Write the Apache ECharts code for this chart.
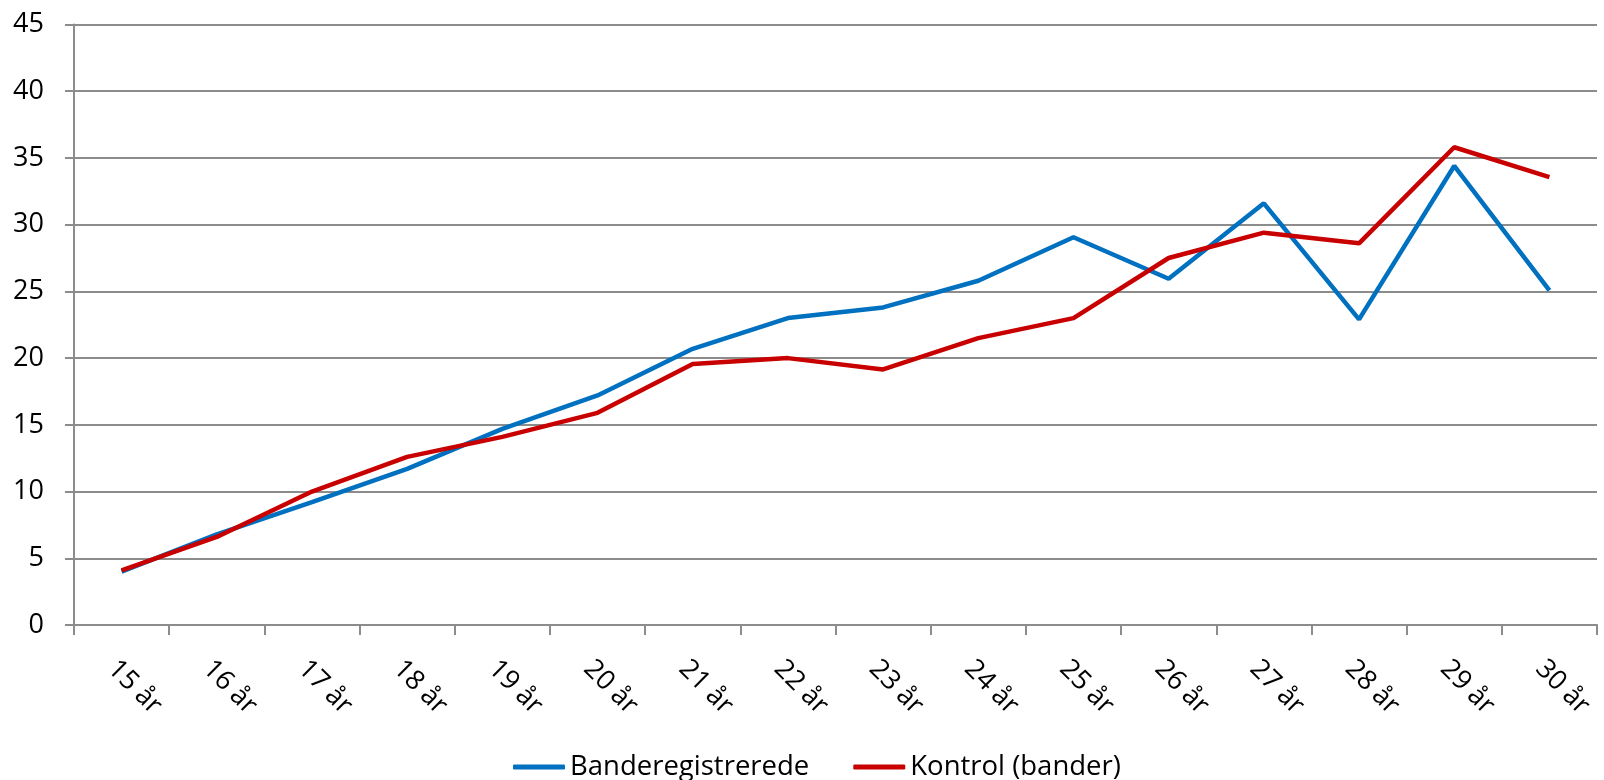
<!DOCTYPE html>
<html>
<head>
<meta charset="utf-8">
<script src="https://cdn.jsdelivr.net/npm/echarts@6/dist/echarts.min.js"></script>
<style>
html,body{margin:0;padding:0;background:#fff;}
#c{width:1604px;height:780px;}
</style>
</head>
<body>
<div id="c"></div>
<script>
var categories = ['15 år','16 år','17 år','18 år','19 år','20 år','21 år','22 år','23 år','24 år','25 år','26 år','27 år','28 år','29 år','30 år'];
var banderegistrerede = [4.0, 6.8, 9.2, 11.7, 14.7, 17.2, 20.7, 23.0, 23.8, 25.8, 29.06, 25.95, 31.6, 22.9, 34.4, 25.07];
var kontrol = [4.1, 6.6, 10.0, 12.6, 14.1, 15.9, 19.55, 20.0, 19.15, 21.5, 23.0, 27.5, 29.4, 28.6, 35.8, 33.57];
var yTicks = {min: 0, max: 45, interval: 5};

var font = 'Open Sans';
var chart = echarts.init(document.getElementById('c'));
chart.setOption({
  animation: false,
  grid: {left: 74, right: 7, top: 24.5, bottom: 155, containLabel: false},
  legend: {
    top: 748,
    left: 508,
    itemWidth: 52,
    itemHeight: 5,
    itemGap: 44,
    icon: 'roundRect',
    textStyle: {fontFamily: font, fontSize: 27.5, color: '#000'},
    data: ['Banderegistrerede', 'Kontrol (bander)']
  },
  xAxis: {
    type: 'category',
    data: categories,
    boundaryGap: true,
    axisLine: {lineStyle: {color: '#8c8c8c', width: 2}},
    axisTick: {show: true, length: 10, alignWithLabel: false, lineStyle: {color: '#8c8c8c', width: 2}},
    axisLabel: {rotate: -45, fontFamily: font, fontSize: 27, color: '#000', margin: 30, interval: 0, verticalAlign: 'top'}
  },
  yAxis: {
    type: 'value',
    min: yTicks.min, max: yTicks.max, interval: yTicks.interval,
    axisLine: {show: true, lineStyle: {color: '#8c8c8c', width: 2}},
    axisTick: {show: true, length: 9, lineStyle: {color: '#8c8c8c', width: 2}},
    splitLine: {lineStyle: {color: '#8c8c8c', width: 2}},
    axisLabel: {fontFamily: font, fontSize: 27, color: '#000', margin: 30}
  },
  series: [
    {name: 'Banderegistrerede', type: 'line', data: banderegistrerede, symbol: 'none',
     lineStyle: {color: '#0070C0', width: 4.5}, itemStyle: {color: '#0070C0'}},
    {name: 'Kontrol (bander)', type: 'line', data: kontrol, symbol: 'none',
     lineStyle: {color: '#C80000', width: 4.5}, itemStyle: {color: '#C80000'}}
  ]
});
</script>
</body>
</html>
